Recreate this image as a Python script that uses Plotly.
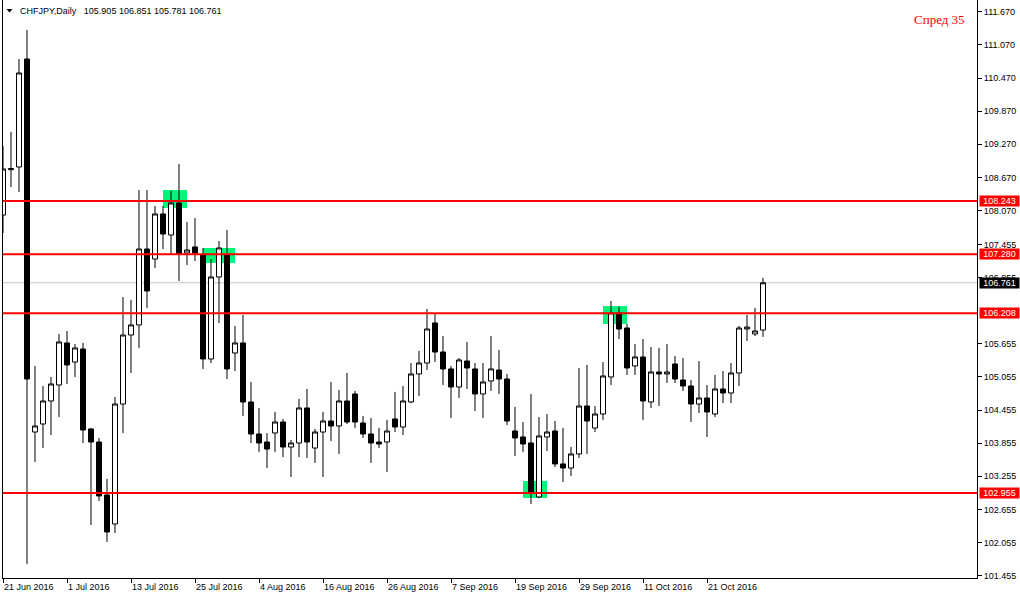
import plotly.graph_objects as go
import pandas as pd

# ---------------- data ----------------
dates = [d.strftime("%Y-%m-%d") for d in pd.bdate_range("2016-06-21", "2016-11-01")]

open_ = [107.989, 108.810, 108.859, 110.815, 104.058, 104.203, 104.620, 104.910, 105.671, 105.326,
         105.562, 104.113, 103.877, 102.917, 102.392, 104.565, 105.815, 105.997, 107.373, 107.192,
         108.008, 107.627, 108.207, 107.301, 107.410, 107.265, 105.381, 106.866, 107.265, 105.489,
         105.671, 104.602, 104.022, 103.877, 104.040, 104.239, 103.786, 103.859, 104.493, 103.768,
         104.058, 104.257, 104.167, 104.620, 104.747, 104.221, 104.022, 103.877, 103.877, 104.294,
         104.149, 104.602, 105.109, 105.308, 106.033, 105.507, 105.200, 104.873, 105.344, 105.200,
         104.747, 104.982, 105.181, 105.018, 104.076, 103.968, 103.859, 102.881, 103.968, 104.076,
         103.479, 103.406, 103.660, 104.529, 104.131, 104.384, 105.055, 106.214, 105.942, 105.254,
         105.417, 104.602, 105.145, 105.109, 105.290, 105.000, 104.892, 104.565, 104.674, 104.384,
         104.837, 104.765, 105.127, 105.924, 105.834, 105.905]
high = [109.239, 109.493, 110.815, 111.341, 105.254, 104.892, 105.055, 105.834, 105.888, 105.652,
        105.671, 104.131, 103.950, 103.207, 104.692, 106.504, 106.450, 108.442, 108.442, 108.152,
        108.152, 108.424, 108.913, 107.863, 107.935, 107.392, 107.192, 107.518, 107.718, 105.979,
        106.178, 104.964, 104.493, 104.040, 104.421, 104.294, 103.913, 104.656, 104.837, 104.113,
        104.421, 104.964, 104.819, 105.127, 104.801, 104.348, 104.312, 104.131, 104.276, 104.783,
        104.892, 105.308, 105.526, 106.286, 106.214, 105.797, 105.254, 105.399, 105.689, 105.308,
        105.308, 105.797, 105.544, 105.109, 104.511, 104.239, 104.747, 104.330, 104.384, 104.257,
        104.131, 103.786, 105.218, 105.272, 104.529, 105.326, 106.431, 106.323, 106.015, 105.652,
        105.743, 105.598, 105.580, 105.652, 105.435, 105.399, 105.000, 105.344, 104.910, 105.091,
        105.163, 105.308, 105.979, 106.178, 106.305, 106.851]
low = [107.663, 108.497, 108.406, 101.667, 103.515, 103.768, 104.004, 104.330, 104.928, 105.055,
       103.859, 102.373, 102.808, 102.065, 102.228, 104.040, 105.127, 105.580, 106.305, 107.029,
       107.373, 107.265, 106.794, 107.084, 107.156, 105.200, 105.308, 106.033, 105.018, 105.163,
       104.348, 103.859, 103.696, 103.406, 103.696, 103.605, 103.243, 103.605, 103.587, 103.497,
       103.243, 103.895, 103.660, 104.203, 104.131, 103.950, 103.497, 103.768, 103.334, 104.058,
       104.004, 104.580, 104.710, 105.181, 105.326, 104.910, 104.312, 104.674, 104.837, 104.439,
       104.312, 104.801, 104.747, 104.185, 103.623, 103.696, 102.754, 102.860, 103.714, 103.424,
       103.152, 103.261, 103.587, 103.660, 104.058, 104.276, 104.910, 105.743, 105.091, 105.091,
       104.276, 104.493, 104.529, 104.946, 104.946, 104.801, 104.239, 104.402, 103.968, 104.330,
       104.584, 104.584, 104.892, 105.707, 105.797, 105.781]
close = [108.823, 108.830, 110.562, 105.018, 104.167, 104.620, 104.928, 105.689, 105.272, 105.580,
         104.094, 103.877, 102.899, 102.247, 104.565, 105.815, 105.997, 107.373, 106.613, 108.008,
         107.645, 108.207, 107.283, 107.355, 107.301, 105.381, 106.866, 107.392, 105.200, 105.671,
         104.602, 104.022, 103.859, 103.750, 104.239, 103.786, 103.859, 104.493, 103.877, 104.058,
         104.257, 104.167, 104.620, 104.239, 104.239, 104.022, 103.859, 103.841, 104.076, 104.149,
         104.620, 105.109, 105.308, 105.924, 105.507, 105.200, 104.873, 105.363, 105.218, 104.747,
         104.964, 105.200, 105.018, 104.257, 103.950, 103.841, 102.971, 103.986, 104.058, 103.479,
         103.406, 103.660, 104.529, 104.257, 104.384, 105.073, 106.214, 105.924, 105.218, 105.417,
         104.620, 105.145, 105.109, 105.145, 105.018, 104.892, 104.565, 104.674, 104.421, 104.837,
         104.765, 105.127, 105.942, 105.960, 105.888, 106.761]

x_tick_dates = ["2016-06-21", "2016-07-01", "2016-07-13", "2016-07-25", "2016-08-04", "2016-08-16",
                "2016-08-26", "2016-09-07", "2016-09-19", "2016-09-29", "2016-10-11", "2016-10-21"]
x_tick_labels = ["21 Jun 2016", "1 Jul 2016", "13 Jul 2016", "25 Jul 2016", "4 Aug 2016", "16 Aug 2016",
                 "26 Aug 2016", "7 Sep 2016", "19 Sep 2016", "29 Sep 2016", "11 Oct 2016", "21 Oct 2016"]

y_tick_values = [111.670, 111.070, 110.470, 109.870, 109.270, 108.670, 108.070, 107.455, 106.855,
                 105.655, 105.055, 104.455, 103.855, 103.255, 102.655, 102.055, 101.455]
y_tick_labels = [f"{v:.3f}" for v in y_tick_values]

levels = [108.243, 107.280, 106.208, 102.955]
bid_price = 106.761

# highlight zones: (start date, end date, top price, bottom price)
zones = [("2016-07-19", "2016-07-22", 108.442, 108.116),
         ("2016-07-26", "2016-08-01", 107.392, 107.120),
         ("2016-09-20", "2016-09-23", 103.171, 102.863),
         ("2016-10-04", "2016-10-07", 106.341, 106.015)]

header_text = "CHFJPY,Daily\u00a0\u00a0\u00a0105.905 106.851 105.781 106.761"
spread_text = "Спред 35"

# ---------------- figure ----------------
W, H = 1020, 599
ML, MR, MT, MB = 3, 43, 0, 21
PW, PH = W - ML - MR, H - MT - MB


def px_x(px):
    return (px - ML) / PW


def px_y(py):
    return 1 - (py - MT) / PH


fig = go.Figure()
fig.add_trace(go.Candlestick(
    x=dates, open=open_, high=high, low=low, close=close,
    increasing=dict(line=dict(color="black", width=1), fillcolor="white"),
    decreasing=dict(line=dict(color="black", width=1), fillcolor="black"),
    whiskerwidth=0, showlegend=False, hoverinfo="skip",
))

shapes = []
for (d0, d1, top, bot) in zones:
    shapes.append(dict(type="rect", xref="x", yref="y",
                       x0=dates.index(d0), x1=dates.index(d1), y0=bot, y1=top,
                       fillcolor="#00F57A", line=dict(width=0), layer="below"))
shapes.append(dict(type="line", xref="paper", yref="y", x0=0, x1=1, y0=bid_price, y1=bid_price,
                   line=dict(color="#C0C0C0", width=1), layer="below"))
for lv in levels:
    shapes.append(dict(type="line", xref="paper", yref="y", x0=0, x1=1, y0=lv, y1=lv,
                       line=dict(color="#FF0000", width=2), layer="above"))
# small header triangle
tri = f"M {px_x(6.5)} {px_y(9)} L {px_x(12.5)} {px_y(9)} L {px_x(9.5)} {px_y(12.5)} Z"
shapes.append(dict(type="path", xref="paper", yref="paper", path=tri,
                   fillcolor="black", line=dict(width=0)))

annotations = []
for lv in levels:
    annotations.append(dict(xref="paper", yref="y", x=1, y=lv, xanchor="left", yanchor="middle",
                            xshift=2, text=f"{lv:.3f}", showarrow=False, bgcolor="#FF0000",
                            font=dict(family="Liberation Sans", size=9, color="white"),
                            borderpad=0, width=39, height=10))
annotations.append(dict(xref="paper", yref="y", x=1, y=bid_price, xanchor="left", yanchor="middle",
                        xshift=2, text=f"{bid_price:.3f}", showarrow=False, bgcolor="black",
                        font=dict(family="Liberation Sans", size=9, color="white"),
                        borderpad=0, width=39, height=10))
annotations.append(dict(xref="paper", yref="paper", x=px_x(18), y=px_y(11), xanchor="left",
                        yanchor="middle", text=header_text, showarrow=False,
                        font=dict(family="Liberation Sans", size=9, color="black")))
annotations.append(dict(xref="paper", yref="paper", x=px_x(967), y=px_y(20), xanchor="right",
                        yanchor="middle", text=spread_text, showarrow=False,
                        font=dict(family="Liberation Serif", size=13, color="#FF0000")))

fig.update_layout(
    width=W, height=H,
    margin=dict(l=ML, r=MR, t=MT, b=MB, pad=0),
    paper_bgcolor="white", plot_bgcolor="white",
    boxgap=0.375, boxgroupgap=0,
    showlegend=False,
    shapes=shapes, annotations=annotations,
    font=dict(family="Liberation Sans", size=9, color="black"),
    xaxis=dict(type="category", range=[0, PW / 8.0], rangeslider=dict(visible=False),
               showgrid=False, zeroline=False, showline=True, linecolor="black", linewidth=1,
               ticks="outside", ticklen=4, tickcolor="black", tickwidth=1,
               tickmode="array", tickvals=x_tick_dates, ticktext=x_tick_labels,
               ticklabelposition="outside right",
               tickfont=dict(family="Liberation Sans", size=9, color="black"), fixedrange=True),
    yaxis=dict(side="right", range=[101.413, 111.884], showgrid=False, zeroline=False,
               showline=True, mirror=True, linecolor="black", linewidth=1,
               ticks="outside", ticklen=4, tickcolor="black", tickwidth=1,
               tickmode="array", tickvals=y_tick_values, ticktext=y_tick_labels,
               tickfont=dict(family="Liberation Sans", size=9, color="black"), fixedrange=True),
)

fig.write_html("out.html")
